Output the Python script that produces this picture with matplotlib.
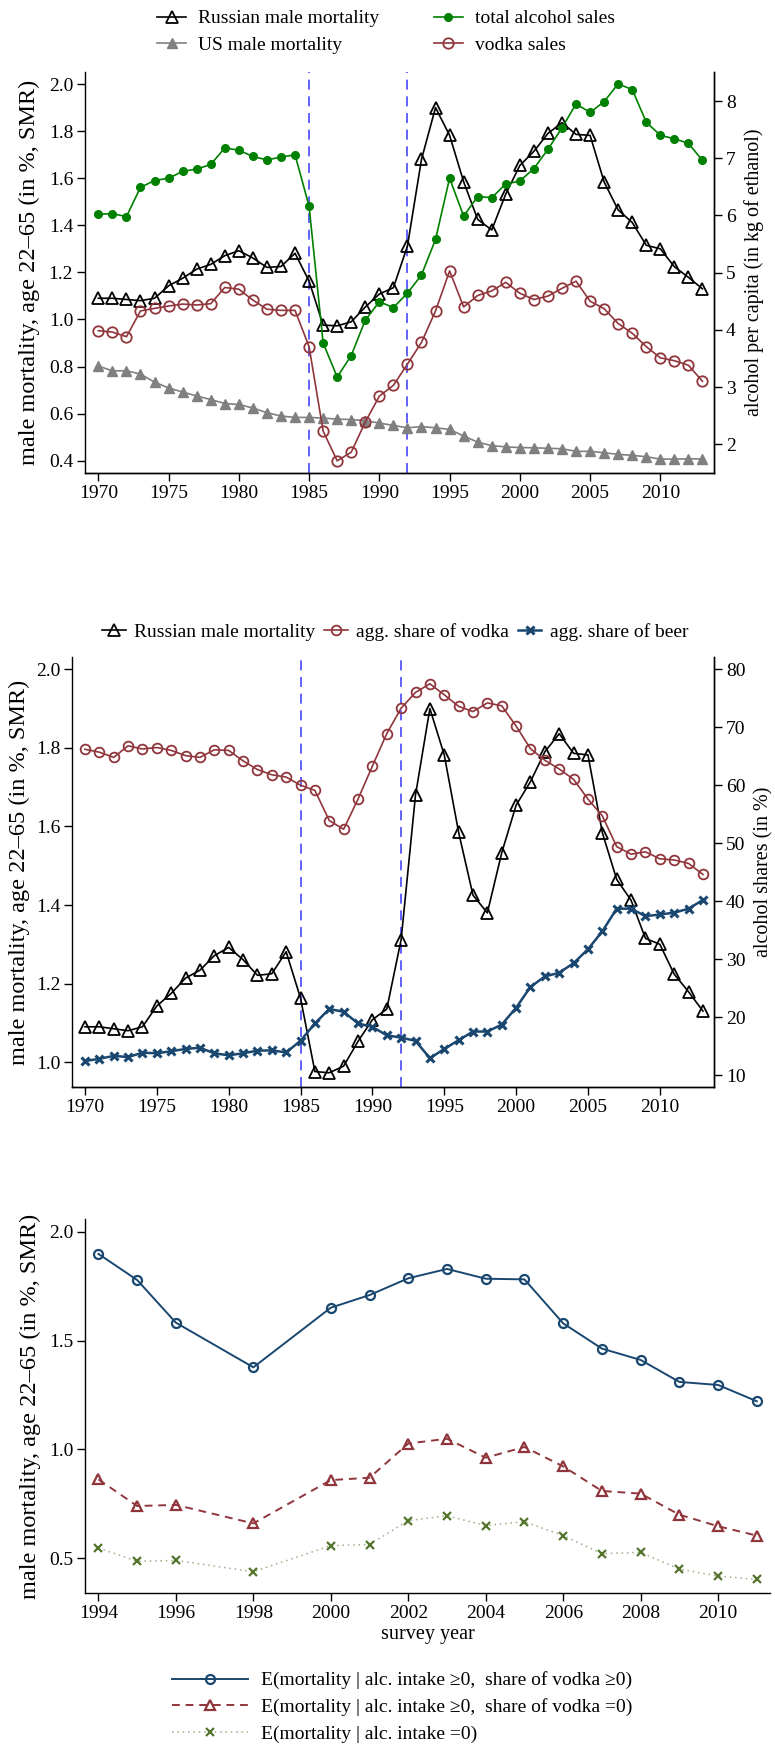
import matplotlib
matplotlib.use("Agg")
import matplotlib.pyplot as plt
import numpy as np

plt.rcParams['font.family'] = ['Liberation Serif', 'DejaVu Serif']
plt.rcParams['font.size'] = 14

# ---- data ----
years = np.arange(1970, 2014)

rus_mort = [1.09, 1.09, 1.085, 1.08, 1.09, 1.143, 1.175, 1.214, 1.234, 1.271,
            1.292, 1.261, 1.221, 1.225, 1.281, 1.163, 0.976, 0.973, 0.99, 1.053,
            1.108, 1.135, 1.312, 1.68, 1.90, 1.782, 1.585, 1.425, 1.38, 1.533,
            1.654, 1.714, 1.79, 1.836, 1.786, 1.782, 1.584, 1.465, 1.412, 1.315,
            1.30, 1.224, 1.179, 1.13]

us_mort = [0.802, 0.782, 0.782, 0.768, 0.734, 0.709, 0.692, 0.675, 0.66, 0.643,
           0.639, 0.624, 0.604, 0.59, 0.584, 0.584, 0.581, 0.577, 0.575, 0.57,
           0.56, 0.55, 0.54, 0.545, 0.54, 0.533, 0.505, 0.479, 0.464, 0.459,
           0.456, 0.455, 0.453, 0.451, 0.44, 0.44, 0.434, 0.427, 0.423, 0.417,
           0.407, 0.407, 0.408, 0.408]

total_alc = [6.02, 6.03, 5.98, 6.49, 6.61, 6.65, 6.77, 6.81, 6.89, 7.18,
             7.14, 7.03, 6.97, 7.02, 7.06, 6.16, 3.77, 3.175, 3.55, 4.17,
             4.49, 4.39, 4.64, 4.96, 5.58, 6.65, 5.99, 6.33, 6.31, 6.55,
             6.60, 6.82, 7.155, 7.53, 7.95, 7.80, 7.99, 8.30, 8.20, 7.63,
             7.40, 7.34, 7.26, 6.96]

vodka_sales = [3.985, 3.96, 3.88, 4.33, 4.375, 4.416, 4.45, 4.434, 4.457, 4.74,
               4.71, 4.52, 4.36, 4.34, 4.34, 3.705, 2.23, 1.71, 1.86, 2.39,
               2.84, 3.03, 3.40, 3.78, 4.33, 5.03, 4.40, 4.60, 4.68, 4.83,
               4.64, 4.53, 4.59, 4.725, 4.85, 4.50, 4.37, 4.11, 3.94, 3.705,
               3.51, 3.46, 3.38, 3.10]

vodka_share = [66.2, 65.7, 64.8, 66.8, 66.25, 66.5, 66.0, 65.1, 64.8, 66.1,
               66.0, 64.2, 62.7, 61.8, 61.4, 60.0, 59.1, 53.9, 52.4, 57.6,
               63.3, 68.9, 73.3, 76.0, 77.5, 75.6, 73.6, 72.7, 74.2, 73.7,
               70.2, 66.3, 64.3, 62.8, 61.0, 57.6, 54.7, 49.4, 48.1, 48.5,
               47.3, 47.1, 46.5, 44.6]

beer_share = [12.4, 12.8, 13.3, 13.1, 13.85, 13.75, 14.1, 14.5, 14.7, 13.75,
              13.4, 13.75, 14.2, 14.25, 13.9, 15.9, 18.9, 21.4, 20.9, 18.9,
              18.3, 16.85, 16.45, 15.9, 12.9, 14.5, 16.0, 17.5, 17.5, 18.7,
              21.6, 25.2, 27.0, 27.65, 29.3, 31.7, 34.8, 38.7, 38.7, 37.4,
              37.7, 38.0, 38.7, 40.2]

survey_years = [1994, 1995, 1996, 1998, 2000, 2001, 2002, 2003, 2004, 2005,
                2006, 2007, 2008, 2009, 2010, 2011]
e_all = [1.898, 1.778, 1.582, 1.377, 1.651, 1.709, 1.786, 1.829, 1.784, 1.781,
         1.579, 1.463, 1.411, 1.31, 1.296, 1.221]
e_no_vodka = [0.862, 0.74, 0.745, 0.66, 0.859, 0.87, 1.027, 1.049, 0.962, 1.011,
              0.922, 0.809, 0.797, 0.70, 0.647, 0.604]
e_no_alc = [0.547, 0.486, 0.49, 0.438, 0.558, 0.563, 0.673, 0.695, 0.65, 0.668,
            0.604, 0.521, 0.527, 0.45, 0.418, 0.403]

reform_years = [1985, 1992]

# colours
navy = '#1a476f'
maroon = '#90353b'
fgreen = '#55752f'
vline_col = '#4848ff'

W, H = 775, 1746
fig = plt.figure(figsize=(W / 100, H / 100), dpi=100)


def box(l, r, t, b):
    return [l / W, 1 - b / H, (r - l) / W, (b - t) / H]


def style(ax, right=True):
    ax.spines['top'].set_visible(False)
    ax.spines['right'].set_visible(right)
    ax.tick_params(direction='out', length=5.5, width=1, labelsize=14, pad=3)
    for s in ax.spines.values():
        s.set_linewidth(1)


ylab = 'male mortality, age 22\u201365 (in %, SMR)'

# ---------------- panel 1 ----------------
ax1 = fig.add_axes(box(85, 714, 72, 473))
ax1r = ax1.twinx()
style(ax1)
style(ax1r)
ax1r.spines['left'].set_visible(False)

for yr in reform_years:
    ax1.axvline(yr, color=vline_col, lw=1.2, ls=(0, (6, 4)), zorder=1)

l_rus, = ax1.plot(years, rus_mort, color='black', lw=1.2, marker='^', ms=8.5,
                  mfc='none', mec='black', mew=1.3, zorder=4)
l_us, = ax1.plot(years, us_mort, color='#808080', lw=1.2, marker='^', ms=6.5,
                 mfc='#808080', mec='#808080', zorder=3)
l_tot, = ax1r.plot(years, total_alc, color='#008000', lw=1.2, marker='o', ms=5.5,
                   mfc='#008000', mec='#008000', zorder=3)
l_vod, = ax1r.plot(years, vodka_sales, color=maroon, lw=1.2, marker='o', ms=7.5,
                   mfc='none', mec=maroon, mew=1.3, zorder=3)

ax1.set_xlim(1969.05, 2013.82)
ax1.set_ylim(0.348, 2.051)
ax1r.set_ylim(1.497, 8.507)
ax1.set_xticks(np.arange(1970, 2011, 5))
ax1.set_yticks(np.arange(0.4, 2.01, 0.2))
ax1.set_yticklabels([f'{v:.1f}' for v in np.arange(0.4, 2.01, 0.2)])
ax1r.set_yticks(np.arange(2, 9, 1))
ax1.set_ylabel(ylab, fontsize=17.5, labelpad=6)
ax1r.set_ylabel('alcohol per capita (in kg of ethanol)', fontsize=14.5, labelpad=6)

fig.legend([l_rus, l_us, l_tot, l_vod],
           ['Russian male mortality', 'US male mortality', 'total alcohol sales', 'vodka sales'],
           ncol=2, loc='center', bbox_to_anchor=(386 / W, 1 - 31.7 / H), frameon=False,
           fontsize=14, handlelength=1.5, handletextpad=0.6, columnspacing=2.8,
           labelspacing=0.45, numpoints=1, borderpad=0)

# ---------------- panel 2 ----------------
ax2 = fig.add_axes(box(72.3, 714.3, 656.7, 1087.3))
ax2r = ax2.twinx()
style(ax2)
style(ax2r)
ax2r.spines['left'].set_visible(False)

for yr in reform_years:
    ax2.axvline(yr, color=vline_col, lw=1.2, ls=(0, (6, 4)), zorder=1)

m_rus, = ax2.plot(years, rus_mort, color='black', lw=1.2, marker='^', ms=8,
                  mfc='none', mec='black', mew=1.3, zorder=4)
m_vod, = ax2r.plot(years, vodka_share, color=maroon, lw=1.2, marker='o', ms=7,
                   mfc='none', mec=maroon, mew=1.3, zorder=3)
m_beer, = ax2r.plot(years, beer_share, color=navy, lw=1.8, marker='x', ms=6,
                    mec=navy, mew=2.2, zorder=3)

ax2.set_xlim(1969.12, 2013.79)
ax2.set_ylim(0.936, 2.032)
ax2r.set_ylim(7.88, 82.17)
ax2.set_xticks(np.arange(1970, 2011, 5))
ax2.set_yticks(np.arange(1.0, 2.01, 0.2))
ax2.set_yticklabels([f'{v:.1f}' for v in np.arange(1.0, 2.01, 0.2)])
ax2r.set_yticks(np.arange(10, 81, 10))
ax2.set_ylabel(ylab, fontsize=17.5, labelpad=4)
ax2r.set_ylabel('alcohol shares (in %)', fontsize=14.5, labelpad=6)

fig.legend([m_rus, m_vod, m_beer],
           ['Russian male mortality', 'agg. share of vodka', 'agg. share of beer'],
           ncol=3, loc='center', bbox_to_anchor=(395.5 / W, 1 - 632.3 / H), frameon=False,
           fontsize=14, handlelength=1.2, handletextpad=0.45, columnspacing=0.45,
           numpoints=1, borderpad=0)

# ---------------- panel 3 ----------------
ax3 = fig.add_axes(box(85.3, 770, 1219.3, 1593.3))
style(ax3, right=False)

n_all, = ax3.plot(survey_years, e_all, color=navy, lw=1.4, marker='o', ms=6.5,
                  mfc='none', mec=navy, mew=1.6)
n_nov, = ax3.plot(survey_years, e_no_vodka, color=maroon, lw=1.4, ls=(0, (4, 3)),
                  marker='^', ms=7.5, mfc='none', mec=maroon, mew=1.6)
n_noa, = ax3.plot(survey_years, e_no_alc, color='#9fae85', lw=1.1, ls=(0, (1, 2.5)),
                  marker='x', ms=5.5, mec=fgreen, mew=1.6)

ax3.set_xlim(1993.66, 2011.34)
ax3.set_ylim(0.339, 2.057)
ax3.set_xticks(np.arange(1994, 2011, 2))
ax3.set_yticks([0.5, 1.0, 1.5, 2.0])
ax3.set_yticklabels(['0.5', '1.0', '1.5', '2.0'])
ax3.set_ylabel(ylab, fontsize=17.5, labelpad=6)
ax3.set_xlabel('survey year', fontsize=14.5, labelpad=2)

fig.legend([n_all, n_nov, n_noa],
           ['E(mortality | alc. intake \u22650,  share of vodka \u22650)',
            'E(mortality | alc. intake \u22650,  share of vodka =0)',
            'E(mortality | alc. intake =0)'],
           ncol=1, loc='center', bbox_to_anchor=(402 / W, 1 - 1707 / H), frameon=False,
           fontsize=14, handlelength=3.9, handletextpad=0.65, labelspacing=0.45,
           numpoints=1, borderpad=0)

fig.savefig('out.png', dpi=100)
